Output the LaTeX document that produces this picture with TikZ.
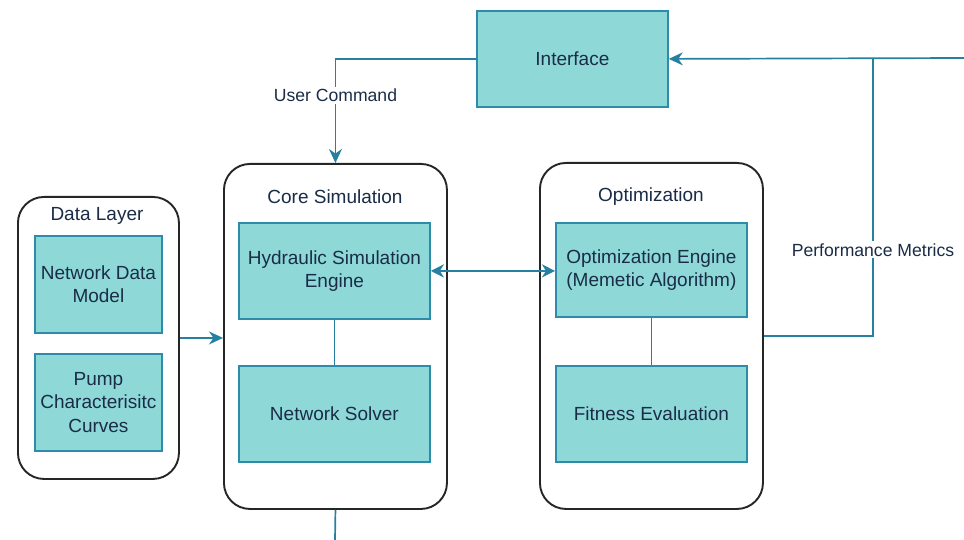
\documentclass[tikz,border=0pt]{standalone}
\usepackage{fontspec}
\setmainfont{Liberation Sans}
\usetikzlibrary{arrows.meta,calc}

\definecolor{boxfill}{RGB}{142,217,216}
\definecolor{boxedge}{RGB}{45,140,170}
\definecolor{wire}{RGB}{38,128,162}
\definecolor{ink}{RGB}{26,44,70}

\tikzset{
  blockbox/.style={draw=boxedge, line width=1.8pt, fill=boxfill, anchor=north west,
    align=center, text=ink, inner sep=2pt,
    font=\fontsize{19}{23.5}\selectfont},
  group/.style={draw=black!85, line width=1.9pt, rounded corners=26pt, fill=white,
    anchor=north west, inner sep=0pt},
  grouptitle/.style={text=ink, font=\fontsize{19}{22}\selectfont},
  wirelabel/.style={fill=white, text=ink, inner sep=2pt, font=\fontsize{17.6}{20}\selectfont},
  link/.style={draw=wire, line width=1.7pt},
  arrowlink/.style={link, -{Stealth[length=14pt,width=13pt,inset=4.5pt]}},
  bothlink/.style={draw=wire, line width=2.6pt,
    {Stealth[length=13pt,width=13pt,inset=4pt]}-{Stealth[length=13pt,width=13pt,inset=4pt]}}
}

\begin{document}
\begin{tikzpicture}[x=1pt,y=-1pt]
\useasboundingbox (0,0) rectangle (964,540);

% containers
\node[group, minimum width=161pt, minimum height=282pt] (data) at (17,196) {};
\node[group, minimum width=223pt, minimum height=345pt] (core) at (223,163) {};
\node[group, minimum width=223pt, minimum height=346pt] (opt) at (539,162) {};

\node[grouptitle] (datat) at (97,216) {Data Layer};
\node[grouptitle] (coret) at (335,197) {Core Simulation};
\node[grouptitle] (optt) at (651,197) {Optimization};

% blocks
\node[blockbox, minimum width=191pt, minimum height=96pt] (iface) at (476,10) {Interface};

\node[blockbox, minimum width=127pt, minimum height=97pt] (ndm) at (34,235) {Network Data\\Model};
\node[blockbox, minimum width=127pt, minimum height=97pt] (pump) at (34,353) {Pump\\Characterisitc\\Curves};

\node[blockbox, minimum width=191pt, minimum height=96pt] (hyd) at (238,222) {Hydraulic Simulation\\Engine};
\node[blockbox, minimum width=191pt, minimum height=96pt] (solver) at (238,365) {Network Solver};

\node[blockbox, minimum width=191pt, minimum height=94pt] (oeng) at (555,222) {Optimization Engine\\(Memetic Algorithm)};
\node[blockbox, minimum width=191pt, minimum height=96pt] (fit) at (555,365) {Fitness Evaluation};

% connectors
\draw[link] (hyd) -- (solver);
\draw[link] (oeng) -- (fit);

\draw[arrowlink] (iface.west) -| (core.north)
  node[wirelabel, pos=0.675] (ucmd) {User Command};

\draw[arrowlink] (data.east) -- (data.east -| core.west);

\draw[bothlink] (hyd.east) -- (hyd.east -| oeng.west);

\coordinate (rightend) at (964,58);
\coordinate (pmtop) at (873,58);
\draw[link] (opt.east) -| (pmtop)
  node[wirelabel, pos=0.655] (pmetric) {Performance Metrics};
\draw[arrowlink] (rightend) -- (iface.east);

\coordinate (bottomend) at (335,540);
\draw[link] (core.south) -- (bottomend);

\end{tikzpicture}
\end{document}
